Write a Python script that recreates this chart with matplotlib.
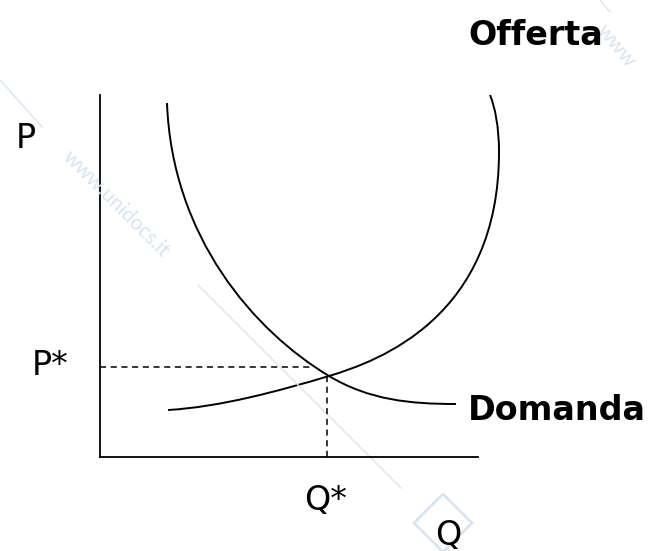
import matplotlib
matplotlib.use("Agg")
import matplotlib.pyplot as plt
from matplotlib.path import Path
from matplotlib.patches import PathPatch, RegularPolygon

# Curves as cubic Bezier pieces (Q, P):
# start, control 1, control 2, end for each piece
domanda_pts = [(6.7, 35.4), (7.2, 22.0), (15.4, 12.6), (22.9, 8.1),
               (26.9, 5.7), (31.0, 5.3), (35.6, 5.3)]
offerta_pts = [(6.8, 4.7), (12.0, 5.0), (17.9, 6.6), (22.9, 8.1),
               (27.9, 9.6), (39.9, 14.0), (39.9, 30.5),
               (39.9, 33.0), (39.5, 35.0), (39.0, 36.2)]

q_star = 22.7
p_star = 9.0
p_star_line_end = 21.4
q_star_line_top = 8.1
q_max = 37.8
p_max = 36.2


def bezier(points):
    codes = [Path.MOVETO] + [Path.CURVE4] * (len(points) - 1)
    return PathPatch(Path(points, codes), fill=False, edgecolor="black",
                     lw=1.4, capstyle="butt")


fig = plt.figure(figsize=(6.62, 5.51), dpi=100)
ax = fig.add_axes([0, 0, 1, 1])
ax.set_xlim(-10, 56.2)
ax.set_ylim(-9.4, 45.7)
ax.axis("off")

wm = "#d6e5f4"
# faint watermark
ax.plot([-10, -5.8], [37.7, 33.0], color=wm, lw=1)
ax.plot([9.8, 30.1], [17.2, -3.1], color=wm, lw=1)
ax.plot([50.0, 51.0], [45.7, 44.5], color=wm, lw=1)
ax.text(-2.7, 31.0, "www.unidocs.it", rotation=-45, color=wm, fontsize=15,
        family="Lato", ha="left", va="top", rotation_mode="anchor")
ax.text(50.8, 43.6, "www", rotation=-50, color=wm, fontsize=15,
        family="Lato", ha="left", va="top", rotation_mode="anchor")
ax.add_patch(RegularPolygon((34.3, -6.6), 4, radius=2.9, orientation=0,
                            fill=False, edgecolor=wm, lw=2, joinstyle="round"))

# axes
ax.plot([0, 0], [0, p_max], color="black", lw=1.3)
ax.plot([0, q_max], [0, 0], color="black", lw=1.3)

# curves
ax.add_patch(bezier(domanda_pts))
ax.add_patch(bezier(offerta_pts))

# equilibrium guides
ax.plot([0, p_star_line_end], [p_star, p_star], color="black", lw=1.1, ls=(0, (4, 3)))
ax.plot([q_star, q_star], [0, q_star_line_top], color="black", lw=1.1, ls=(0, (4, 3)))

font = "DejaVu Sans"
ax.text(-8.4, 30.9, "P", fontsize=24, family=font)
ax.text(-6.8, 8.2, "P*", fontsize=24, family=font)
ax.text(20.4, -5.3, "Q*", fontsize=24, family=font)
ax.text(33.5, -8.8, "Q", fontsize=24, family=font)
ax.text(36.8, 41.2, "Offerta", fontsize=24, fontweight="bold", family=font)
ax.text(36.8, 3.7, "Domanda", fontsize=24, fontweight="bold", family=font)

fig.savefig("out.png", dpi=100)
